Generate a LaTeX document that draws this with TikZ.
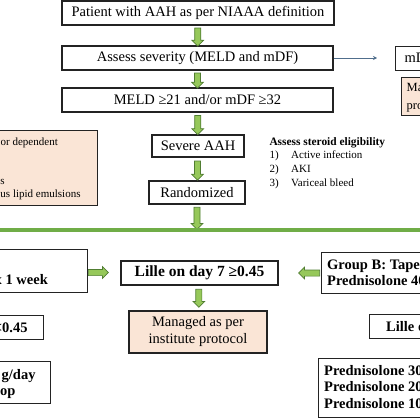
\documentclass[tikz,border=0pt]{standalone}
\usepackage{fontspec}
\setmainfont{Liberation Serif}
\usetikzlibrary{shapes.arrows,arrows.meta}
\definecolor{pinkbox}{RGB}{250,229,214}
\definecolor{garrowfill}{RGB}{150,200,90}
\definecolor{garrowdraw}{RGB}{80,125,50}
\definecolor{gline}{RGB}{112,173,71}
\definecolor{bluearrow}{RGB}{80,110,140}
\definecolor{boxline}{RGB}{35,35,35}
\newcommand\myreg{\fontsize{14.5}{17}\selectfont}
\newcommand\mybold{\fontsize{14.5}{17}\selectfont\bfseries}
\newcommand\mysmall{\fontsize{11}{13.7}\selectfont}
\newcommand\mysmallbold{\fontsize{11.4}{13.7}\selectfont\bfseries}
\tikzset{
  box/.style={draw=boxline, line width=1.1pt, fill=white, inner sep=0pt, font=\myreg, align=center},
  bbox/.style={box, font=\mybold},
  pbox/.style={box, fill=pinkbox},
  txt/.style={anchor=base west, inner sep=0pt, font=\myreg},
  btxt/.style={anchor=base west, inner sep=0pt, font=\mybold},
  stxt/.style={anchor=base west, inner sep=0pt, font=\mysmall},
  sbtxt/.style={anchor=base west, inner sep=0pt, font=\mysmallbold},
  garrow/.style={single arrow, draw=garrowdraw, fill=garrowfill, line width=0.7pt,
    inner xsep=0pt, inner ysep=2.7pt, single arrow head extend=2.8pt,
    single arrow head indent=0pt, minimum width=0pt, text height=0pt, text depth=0pt},
  blarrow/.style={draw=bluearrow, line width=0.8pt, -{Stealth[length=4pt,width=4pt]}}
}
\begin{document}
\begin{tikzpicture}[x=1pt,y=-1pt]
\useasboundingbox (0,0) rectangle (420,420);
\clip (0,0) rectangle (420,420);

% ---------- top flow ----------
\node[box, minimum width=272pt, minimum height=24pt] (b1) at (198,13) {Patient with AAH as per NIAAA definition};
\node[box, minimum width=271pt, minimum height=24pt] (b2) at (197.5,58) {Assess severity (MELD and mDF)};
\node[box, minimum width=271pt, minimum height=24pt] (b3) at (197.5,100) {MELD ≥21 and/or mDF ≥32};
\node[box, minimum width=92pt, minimum height=22pt] (sev) at (198,146) {Severe AAH};
\node[box, minimum width=96pt, minimum height=23pt] (rand) at (197,192.5) {Randomized};

\path (b1.south) -- (b2.north) node[garrow, midway, rotate=-90, minimum height=18pt] {};
\path (b2.south) -- (b3.north) node[garrow, midway, rotate=-90, minimum height=15pt] {};
\path (b3.south) -- (sev.north) node[garrow, midway, rotate=-90, minimum height=19pt] {};
\path (sev.south) -- (rand.north) node[garrow, midway, rotate=-90, minimum height=19pt] {};
\coordinate (glc) at (197,229);
\path (rand.south) -- (glc) node[garrow, midway, rotate=-90, minimum height=22pt] {};

% right branch (cut)
\coordinate (bt) at (377,58);
\draw[blarrow] (b2.east) -- (bt);
\node[box, anchor=north west, minimum width=60pt, minimum height=24pt] (mdf) at (395,46) {};
\node[txt] (mdft) at (404.5,62.7) {mDF};
\node[pbox, anchor=north west, minimum width=60pt, minimum height=38pt] (mgr) at (401,77) {};
\node[txt, font=\fontsize{12.5}{15}\selectfont] (mgr1) at (406.5,91.7) {Managed};
\node[txt, font=\fontsize{12.5}{15}\selectfont] (mgr2) at (406.5,109) {protocol};

% left box (cut)
\node[pbox, anchor=north east, minimum width=120pt, minimum height=75pt] (excl) at (98,130) {};
\node[stxt] (ex1) at (0.5,145) {or dependent};
\node[stxt] (ex4) at (0.3,184) {s};
\node[stxt] (ex5) at (0.3,197.7) {us lipid emulsions};

% steroid eligibility
\node[sbtxt] (st) at (269.3,145.3) {Assess steroid eligibility};
\node[stxt] (s1n) at (269.3,158.7) {1)};
\node[stxt] (s1) at (291,158.7) {Active infection};
\node[stxt] (s2n) at (269.3,172.3) {2)};
\node[stxt] (s2) at (291,172.3) {AKI};
\node[stxt] (s3n) at (269.3,186) {3)};
\node[stxt] (s3) at (291,186) {Variceal bleed};

% green separator
\coordinate (glL) at (0,230);
\coordinate (glR) at (420,230);
\draw[gline, line width=3.3pt] (glL) -- (glR);

% ---------- bottom ----------
\node[box, anchor=north east, minimum width=120pt, minimum height=43pt] (w1) at (88,249) {};
\node[btxt] (w1t) at (-5.5,284) {x 1 week};
\node[bbox, minimum width=157pt, minimum height=24pt, font=\fontsize{15.5}{18}\selectfont\bfseries] (lille) at (199.5,273) {Lille on day 7 ≥0.45};
\node[pbox, minimum width=138pt, minimum height=42pt] (man) at (198,332) {Managed as per\\institute protocol};
\node[box, anchor=north west, minimum width=120pt, minimum height=41pt] (gb) at (321,252) {};
\node[btxt] (gb1) at (327,269.3) {Group B: Tapering};
\node[btxt] (gb2) at (327,285.7) {Prednisolone 40};

\node[garrow, anchor=tail, minimum height=20pt] (ra) at ([yshift=-1.5pt]w1.east) {};
\node[garrow, anchor=tail, rotate=180, minimum height=21pt] (la) at ([xshift=-1pt]gb.west) {};
\path (lille.south) -- (man.north) node[garrow, pos=0.45, rotate=-90, minimum height=18pt] {};

\node[box, anchor=north east, minimum width=80pt, minimum height=24pt] (l45) at (44,315) {};
\node[btxt] (l45t) at (-6.3,332.7) {<0.45};
\node[box, anchor=north east, minimum width=80pt, minimum height=42pt] (gday) at (51,361) {};
\node[btxt] (gd1) at (1.5,379) {g/day};
\node[btxt] (gd2) at (0,395.7) {op};

\node[box, anchor=north west, minimum width=80pt, minimum height=24pt] (l2) at (369,314) {};
\node[btxt] (l2t) at (386,331.7) {Lille on};
\node[box, anchor=north west, minimum width=130pt, minimum height=59pt] (pred) at (318,358) {};
\node[btxt] (p1) at (324,375) {Prednisolone 30};
\node[btxt] (p2) at (324,391.7) {Prednisolone 20};
\node[btxt] (p3) at (324,408.3) {Prednisolone 10};
\end{tikzpicture}
\end{document}
